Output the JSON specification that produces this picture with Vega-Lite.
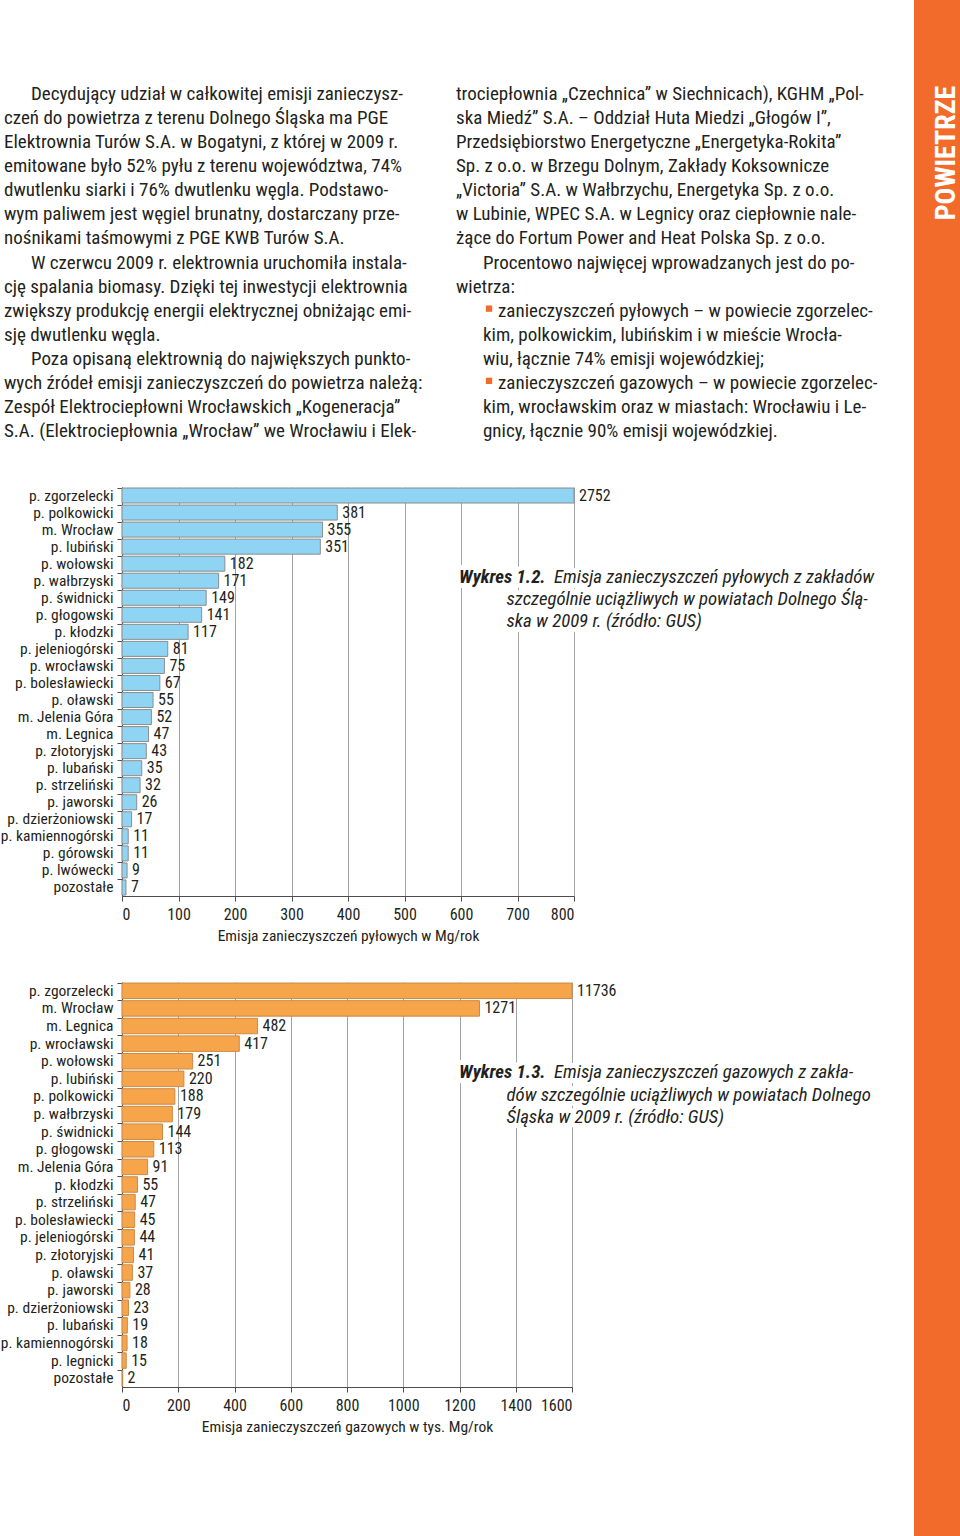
{
  "$schema": "https://vega.github.io/schema/vega-lite/v6.json",
  "padding": 0,
  "background": "white",
  "config": {
    "font": "Roboto Condensed, Liberation Sans Narrow, DejaVu Sans Condensed, sans-serif",
    "view": {"stroke": null},
    "text": {"color": "#231f20"},
    "axis": {
      "labelColor": "#231f20",
      "titleColor": "#231f20",
      "domainColor": "#4d4d4d",
      "tickColor": "#4d4d4d",
      "gridColor": "#a3a3a3",
      "titleFontWeight": "normal"
    }
  },
  "datasets": {
    "paragraphs": [
      {"col": 1, "line": 1, "kind": "first", "text": "Decydujący udział w całkowitej emisji zanieczysz-"},
      {"col": 1, "line": 2, "kind": "cont", "text": "czeń do powietrza z terenu Dolnego Śląska ma PGE"},
      {"col": 1, "line": 3, "kind": "cont", "text": "Elektrownia Turów S.A. w Bogatyni, z której w 2009 r."},
      {"col": 1, "line": 4, "kind": "cont", "text": "emitowane było 52% pyłu z terenu województwa, 74%"},
      {"col": 1, "line": 5, "kind": "cont", "text": "dwutlenku siarki i 76% dwutlenku węgla. Podstawo-"},
      {"col": 1, "line": 6, "kind": "cont", "text": "wym paliwem jest węgiel brunatny, dostarczany prze-"},
      {"col": 1, "line": 7, "kind": "cont", "text": "nośnikami taśmowymi z PGE KWB Turów S.A."},
      {"col": 1, "line": 8, "kind": "first", "text": "W czerwcu 2009 r. elektrownia uruchomiła instala-"},
      {"col": 1, "line": 9, "kind": "cont", "text": "cję spalania biomasy. Dzięki tej inwestycji elektrownia"},
      {"col": 1, "line": 10, "kind": "cont", "text": "zwiększy produkcję energii elektrycznej obniżając emi-"},
      {"col": 1, "line": 11, "kind": "cont", "text": "sję dwutlenku węgla."},
      {"col": 1, "line": 12, "kind": "first", "text": "Poza opisaną elektrownią do największych punkto-"},
      {"col": 1, "line": 13, "kind": "cont", "text": "wych źródeł emisji zanieczyszczeń do powietrza należą:"},
      {"col": 1, "line": 14, "kind": "cont", "text": "Zespół Elektrociepłowni Wrocławskich „Kogeneracja”"},
      {"col": 1, "line": 15, "kind": "cont", "text": "S.A. (Elektrociepłownia „Wrocław” we Wrocławiu i Elek-"},
      {"col": 2, "line": 1, "kind": "cont", "text": "trociepłownia „Czechnica” w Siechnicach), KGHM „Pol-"},
      {"col": 2, "line": 2, "kind": "cont", "text": "ska Miedź” S.A. – Oddział Huta Miedzi „Głogów I”,"},
      {"col": 2, "line": 3, "kind": "cont", "text": "Przedsiębiorstwo Energetyczne „Energetyka-Rokita”"},
      {"col": 2, "line": 4, "kind": "cont", "text": "Sp. z o.o. w Brzegu Dolnym, Zakłady Koksownicze"},
      {"col": 2, "line": 5, "kind": "cont", "text": "„Victoria” S.A. w Wałbrzychu, Energetyka Sp. z o.o."},
      {"col": 2, "line": 6, "kind": "cont", "text": "w Lubinie, WPEC S.A. w Legnicy oraz ciepłownie nale-"},
      {"col": 2, "line": 7, "kind": "cont", "text": "żące do Fortum Power and Heat Polska Sp. z o.o."},
      {"col": 2, "line": 8, "kind": "first", "text": "Procentowo najwięcej wprowadzanych jest do po-"},
      {"col": 2, "line": 9, "kind": "cont", "text": "wietrza:"},
      {"col": 2, "line": 10, "kind": "bullet", "text": "zanieczyszczeń pyłowych – w powiecie zgorzelec-"},
      {"col": 2, "line": 11, "kind": "bcont", "text": "kim, polkowickim, lubińskim i w mieście Wrocła-"},
      {"col": 2, "line": 12, "kind": "bcont", "text": "wiu, łącznie 74% emisji wojewódzkiej;"},
      {"col": 2, "line": 13, "kind": "bullet", "text": "zanieczyszczeń gazowych – w powiecie zgorzelec-"},
      {"col": 2, "line": 14, "kind": "bcont", "text": "kim, wrocławskim oraz w miastach: Wrocławiu i Le-"},
      {"col": 2, "line": 15, "kind": "bcont", "text": "gnicy, łącznie 90% emisji wojewódzkiej."}
    ],
    "dust": [
      {"area": "p. zgorzelecki", "value": 2752},
      {"area": "p. polkowicki", "value": 381},
      {"area": "m. Wrocław", "value": 355},
      {"area": "p. lubiński", "value": 351},
      {"area": "p. wołowski", "value": 182},
      {"area": "p. wałbrzyski", "value": 171},
      {"area": "p. świdnicki", "value": 149},
      {"area": "p. głogowski", "value": 141},
      {"area": "p. kłodzki", "value": 117},
      {"area": "p. jeleniogórski", "value": 81},
      {"area": "p. wrocławski", "value": 75},
      {"area": "p. bolesławiecki", "value": 67},
      {"area": "p. oławski", "value": 55},
      {"area": "m. Jelenia Góra", "value": 52},
      {"area": "m. Legnica", "value": 47},
      {"area": "p. złotoryjski", "value": 43},
      {"area": "p. lubański", "value": 35},
      {"area": "p. strzeliński", "value": 32},
      {"area": "p. jaworski", "value": 26},
      {"area": "p. dzierżoniowski", "value": 17},
      {"area": "p. kamiennogórski", "value": 11},
      {"area": "p. górowski", "value": 11},
      {"area": "p. lwówecki", "value": 9},
      {"area": "pozostałe", "value": 7}
    ],
    "gas": [
      {"area": "p. zgorzelecki", "value": 11736},
      {"area": "m. Wrocław", "value": 1271},
      {"area": "m. Legnica", "value": 482},
      {"area": "p. wrocławski", "value": 417},
      {"area": "p. wołowski", "value": 251},
      {"area": "p. lubiński", "value": 220},
      {"area": "p. polkowicki", "value": 188},
      {"area": "p. wałbrzyski", "value": 179},
      {"area": "p. świdnicki", "value": 144},
      {"area": "p. głogowski", "value": 113},
      {"area": "m. Jelenia Góra", "value": 91},
      {"area": "p. kłodzki", "value": 55},
      {"area": "p. strzeliński", "value": 47},
      {"area": "p. bolesławiecki", "value": 45},
      {"area": "p. jeleniogórski", "value": 44},
      {"area": "p. złotoryjski", "value": 41},
      {"area": "p. oławski", "value": 37},
      {"area": "p. jaworski", "value": 28},
      {"area": "p. dzierżoniowski", "value": 23},
      {"area": "p. lubański", "value": 19},
      {"area": "p. kamiennogórski", "value": 18},
      {"area": "p. legnicki", "value": 15},
      {"area": "pozostałe", "value": 2}
    ],
    "caption1": [
      {"line": 1, "seg": "label", "text": "Wykres 1.2."},
      {"line": 1, "seg": "first", "text": "Emisja zanieczyszczeń pyłowych z zakładów"},
      {"line": 2, "seg": "cont", "text": "szczególnie uciążliwych w powiatach Dolnego Ślą-"},
      {"line": 3, "seg": "cont", "text": "ska w 2009 r. (źródło: GUS)"}
    ],
    "caption2": [
      {"line": 1, "seg": "label", "text": "Wykres 1.3."},
      {"line": 1, "seg": "first", "text": "Emisja zanieczyszczeń gazowych z zakła-"},
      {"line": 2, "seg": "cont", "text": "dów szczególnie uciążliwych w powiatach Dolnego"},
      {"line": 3, "seg": "cont", "text": "Śląska w 2009 r. (źródło: GUS)"}
    ]
  },
  "bounds": "flush",
  "spacing": 792,
  "hconcat": [
    {
      "bounds": "flush",
      "spacing": 86,
      "vconcat": [
        {
          "width": 452,
          "height": 401,
          "data": {"name": "paragraphs"},
          "encoding": {
            "x": {"field": "col", "type": "ordinal", "scale": {"type": "point", "domain": [1, 2], "range": [-118, 334], "padding": 0}, "axis": null},
            "y": {"field": "line", "type": "ordinal", "scale": {"type": "point", "domain": [1, 2, 3, 4, 5, 6, 7, 8, 9, 10, 11, 12, 13, 14, 15], "range": [94, 431], "padding": 0}, "axis": null}
          },
          "layer": [
            {
              "transform": [{"filter": "datum.kind == 'first'"}],
              "mark": {"type": "text", "align": "left", "baseline": "middle", "fontSize": 19, "dx": 27},
              "encoding": {"text": {"field": "text"}}
            },
            {
              "transform": [{"filter": "datum.kind == 'cont'"}],
              "mark": {"type": "text", "align": "left", "baseline": "middle", "fontSize": 19, "dx": 0},
              "encoding": {"text": {"field": "text"}}
            },
            {
              "transform": [{"filter": "datum.kind == 'bullet'"}],
              "mark": {"type": "text", "align": "left", "baseline": "middle", "fontSize": 19, "dx": 42},
              "encoding": {"text": {"field": "text"}}
            },
            {
              "transform": [{"filter": "datum.kind == 'bcont'"}],
              "mark": {"type": "text", "align": "left", "baseline": "middle", "fontSize": 19, "dx": 27},
              "encoding": {"text": {"field": "text"}}
            },
            {
              "transform": [{"filter": "datum.kind == 'bullet'"}],
              "mark": {"type": "square", "filled": true, "size": 40, "color": "#f26b2a", "opacity": 1, "xOffset": 33, "yOffset": -2}
            }
          ]
        },
        {
          "width": 452,
          "height": 409,
          "resolve": {"scale": {"x": "independent", "y": "independent"}},
          "layer": [
            {
              "data": {"name": "dust"},
              "encoding": {
                "y": {
                  "field": "area", "type": "nominal", "sort": null,
                  "scale": {"paddingInner": 0.12, "paddingOuter": 0.06},
                  "axis": {"title": null, "bandPosition": 0, "tickSize": 5, "labelPadding": 4, "labelFontSize": 15.5, "domainWidth": 1.2}
                },
                "x": {
                  "field": "value", "type": "quantitative",
                  "scale": {"domain": [0, 800], "clamp": true, "nice": false},
                  "axis": {"values": [0, 100, 200, 300, 400, 500, 600, 700, 800], "grid": true, "tickSize": 5, "labelPadding": 5, "labelFontSize": 16, "title": "Emisja zanieczyszczeń pyłowych w Mg/rok", "titleFontSize": 15.5, "titlePadding": 6, "domainWidth": 1.2}
                }
              },
              "layer": [
                {"mark": {"type": "bar", "color": "#8fd5f3", "stroke": "#8c8c8c", "strokeWidth": 1}},
                {"mark": {"type": "text", "align": "left", "baseline": "middle", "dx": 5, "fontSize": 16}, "encoding": {"text": {"field": "value", "type": "quantitative", "format": "d"}}}
              ]
            },
            {
              "data": {"name": "caption1"},
              "encoding": {
                "x": {"field": "seg", "type": "nominal", "scale": {"type": "point", "domain": ["label", "cont", "first"], "range": [337, 432], "padding": 0}, "axis": null},
                "y": {"field": "line", "type": "ordinal", "scale": {"type": "point", "domain": [1, 2, 3], "range": [89.5, 133.5], "padding": 0}, "axis": null},
                "text": {"field": "text"}
              },
              "layer": [
                {"transform": [{"filter": "datum.seg == 'label'"}], "mark": {"type": "text", "align": "left", "baseline": "middle", "fontSize": 18.8, "fontStyle": "italic", "fontWeight": "bold", "color": "white", "stroke": "white", "strokeWidth": 10, "strokeJoin": "round"}},
                {"transform": [{"filter": "datum.seg != 'label'"}], "mark": {"type": "text", "align": "left", "baseline": "middle", "fontSize": 18.8, "fontStyle": "italic", "color": "white", "stroke": "white", "strokeWidth": 10, "strokeJoin": "round"}},
                {"transform": [{"filter": "datum.seg == 'label'"}], "mark": {"type": "text", "align": "left", "baseline": "middle", "fontSize": 18.8, "fontStyle": "italic", "fontWeight": "bold"}},
                {"transform": [{"filter": "datum.seg != 'label'"}], "mark": {"type": "text", "align": "left", "baseline": "middle", "fontSize": 18.8, "fontStyle": "italic"}}
              ]
            }
          ]
        },
        {
          "width": 450,
          "height": 405,
          "resolve": {"scale": {"x": "independent", "y": "independent"}},
          "layer": [
            {
              "data": {"name": "gas"},
              "encoding": {
                "y": {
                  "field": "area", "type": "nominal", "sort": null,
                  "scale": {"paddingInner": 0.12, "paddingOuter": 0.06},
                  "axis": {"title": null, "bandPosition": 0, "tickSize": 5, "labelPadding": 4, "labelFontSize": 15.5, "domainWidth": 1.2}
                },
                "x": {
                  "field": "value", "type": "quantitative",
                  "scale": {"domain": [0, 1600], "clamp": true, "nice": false},
                  "axis": {"values": [0, 200, 400, 600, 800, 1000, 1200, 1400, 1600], "format": "d", "grid": true, "tickSize": 5, "labelPadding": 5, "labelFontSize": 16, "title": "Emisja zanieczyszczeń gazowych w tys. Mg/rok", "titleFontSize": 15.5, "titlePadding": 6, "domainWidth": 1.2}
                }
              },
              "layer": [
                {"mark": {"type": "bar", "color": "#f6a54b", "stroke": "#c98a48", "strokeWidth": 1}},
                {"mark": {"type": "text", "align": "left", "baseline": "middle", "dx": 5, "fontSize": 16}, "encoding": {"text": {"field": "value", "type": "quantitative", "format": "d"}}}
              ]
            },
            {
              "data": {"name": "caption2"},
              "encoding": {
                "x": {"field": "seg", "type": "nominal", "scale": {"type": "point", "domain": ["label", "cont", "first"], "range": [337, 432], "padding": 0}, "axis": null},
                "y": {"field": "line", "type": "ordinal", "scale": {"type": "point", "domain": [1, 2, 3], "range": [90, 135], "padding": 0}, "axis": null},
                "text": {"field": "text"}
              },
              "layer": [
                {"transform": [{"filter": "datum.seg == 'label'"}], "mark": {"type": "text", "align": "left", "baseline": "middle", "fontSize": 18.8, "fontStyle": "italic", "fontWeight": "bold", "color": "white", "stroke": "white", "strokeWidth": 10, "strokeJoin": "round"}},
                {"transform": [{"filter": "datum.seg != 'label'"}], "mark": {"type": "text", "align": "left", "baseline": "middle", "fontSize": 18.8, "fontStyle": "italic", "color": "white", "stroke": "white", "strokeWidth": 10, "strokeJoin": "round"}},
                {"transform": [{"filter": "datum.seg == 'label'"}], "mark": {"type": "text", "align": "left", "baseline": "middle", "fontSize": 18.8, "fontStyle": "italic", "fontWeight": "bold"}},
                {"transform": [{"filter": "datum.seg != 'label'"}], "mark": {"type": "text", "align": "left", "baseline": "middle", "fontSize": 18.8, "fontStyle": "italic"}}
              ]
            }
          ]
        }
      ]
    },
    {
      "bounds": "flush",
      "spacing": 0,
      "vconcat": [
        {
          "width": 47,
          "height": 306,
          "view": {"fill": "#f26b2a", "stroke": null},
          "data": {"values": [{"label": "POWIETRZE"}]},
          "mark": {"type": "text", "angle": 270, "fontSize": 28, "fontWeight": "bold", "color": "white", "align": "center", "baseline": "middle", "xOffset": 9},
          "encoding": {"text": {"field": "label"}}
        },
        {
          "width": 47,
          "height": 1230,
          "view": {"fill": "#f26b2a", "stroke": null},
          "mark": {"type": "rule", "opacity": 0},
          "encoding": {}
        }
      ]
    }
  ]
}
